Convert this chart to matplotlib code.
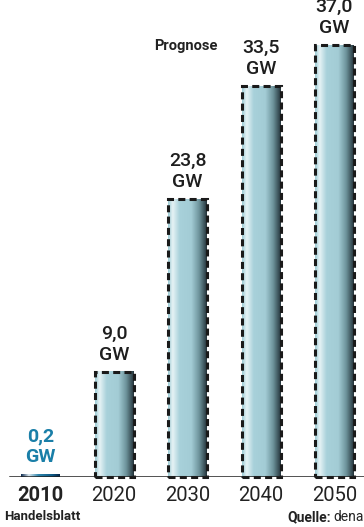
import matplotlib
matplotlib.use("Agg")
import matplotlib.pyplot as plt
import numpy as np
from matplotlib.colors import LinearSegmentedColormap

years = ["2010", "2020", "2030", "2040", "2050"]
values = [0.2, 9.0, 23.8, 33.5, 37.0]
value_labels = ["0,2", "9,0", "23,8", "33,5", "37,0"]
unit = "GW"

plt.rcParams["font.family"] = ["Roboto", "DejaVu Sans"]

W, H = 364, 527
fig = plt.figure(figsize=(W / 100, H / 100), dpi=100)
ax = fig.add_axes([0, 50 / H, 1, 477 / H])
ax.set_xlim(-40.5 / 73.5, 4 + 29.5 / 73.5)
ax.set_ylim(0, 477 / 11.67)
ax.axis("off")

cmap_main = LinearSegmentedColormap.from_list("m", [
    (0.0, "#9ccbd5"), (0.12, "#e6f3f5"), (0.3, "#a8d1da"),
    (0.6, "#a3ccd5"), (0.8, "#6e949c"), (1.0, "#24343b")])
cmap_first = LinearSegmentedColormap.from_list("f", [
    (0.0, "#0b2a50"), (0.2, "#dce8f0"), (0.45, "#2f86ad"),
    (0.8, "#0e5a86"), (1.0, "#06264a")])

x = np.arange(len(years))
bars = ax.bar(x, values, width=39 / 73.5, color="none", zorder=2)
grad = np.linspace(0, 1, 256).reshape(1, -1)
for i, b in enumerate(bars):
    x0, w, h = b.get_x(), b.get_width(), b.get_height()
    cm = cmap_first if i == 0 else cmap_main
    ax.imshow(grad, cmap=cm, aspect="auto", extent=[x0, x0 + w, 0, h],
              zorder=1, interpolation="bilinear")
    if i > 0:
        ax.add_patch(plt.Rectangle((x0, 0), w, h, fill=False, ec="#1a1a1a",
                                   lw=2.2, ls=(0, (2.3, 1.4)), zorder=3,
                                   clip_on=False))
    col = "#1a7fa8" if i == 0 else "#1e1e1e"
    ax.annotate(value_labels[i] + "\n" + unit, (x[i], h), xytext=(0, 6),
                textcoords="offset points", ha="center", va="bottom",
                fontsize=14, color=col, fontweight="bold" if i == 0 else "medium",
                linespacing=1.2, annotation_clip=False)

ax.axhline(0, xmin=10 / W, xmax=1, color="#1e1e1e", lw=1.8, zorder=4)

for i, yr in enumerate(years):
    ax.annotate(yr, (x[i], 0), xytext=(0, -6.5), textcoords="offset points",
                ha="center", va="top", fontsize=14.5, color="#222222",
                fontweight="bold" if i == 0 else "normal", annotation_clip=False)

fig.text(186 / W, 1 - 46 / H, "Prognose", ha="center", va="center",
         fontsize=10.5, fontweight="bold", color="#222222")
fig.text(4 / W, 1 - 517 / H, "Handelsblatt", ha="left", va="center",
         fontsize=9.5, fontweight="bold", color="#222222")
t = fig.text(1 - 0.5 / W, 1 - 517 / H, "dena", ha="right", va="center",
             fontsize=10, color="#222222")
fig.canvas.draw()
bb = t.get_window_extent()
fig.text((bb.x0 - 2) / W, 1 - 517 / H, "Quelle:", ha="right", va="center",
         fontsize=10, fontweight="bold", color="#222222")

fig.savefig("out.png", dpi=100)
